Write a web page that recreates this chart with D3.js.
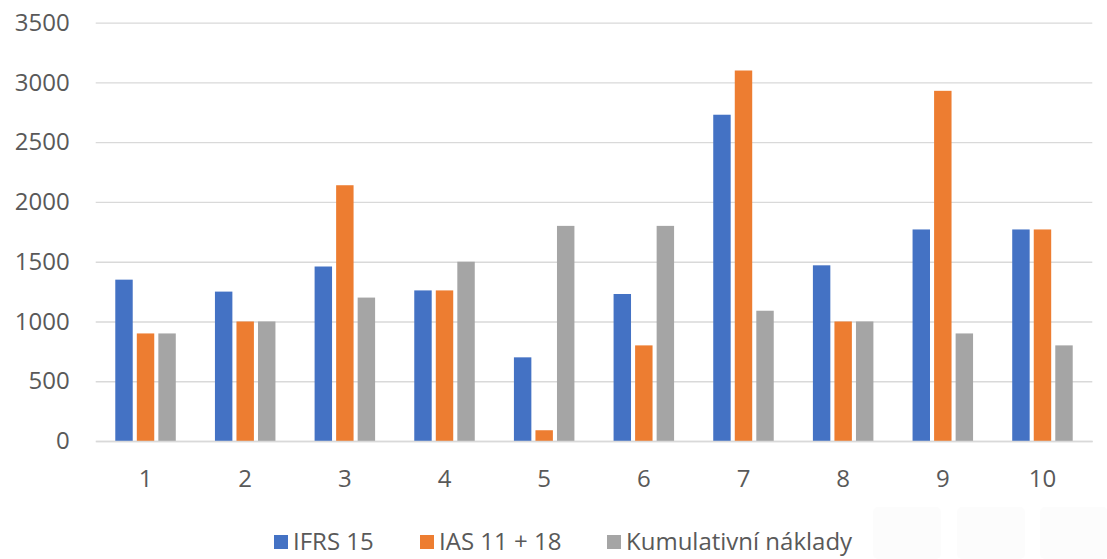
<!DOCTYPE html>
<html>
<head>
<meta charset="utf-8">
<script src="https://cdn.jsdelivr.net/npm/d3@7"></script>
<style>
  body { margin: 0; background: #fff; }
  text { font-family: "Open Sans", "Noto Sans", sans-serif; }
</style>
</head>
<body>
<div id="my_dataviz"></div>
<script>
// data
var categories = ["1", "2", "3", "4", "5", "6", "7", "8", "9", "10"];
var seriesNames = ["IFRS 15", "IAS 11 + 18", "Kumulativní náklady"];
var ifrs15 = [1350, 1250, 1460, 1260, 700, 1230, 2730, 1470, 1770, 1770];
var ias1118 = [900, 1000, 2140, 1260, 90, 800, 3100, 1000, 2930, 1770];
var kumulativni = [900, 1000, 1200, 1500, 1800, 1800, 1090, 1000, 900, 800];
var yTicks = [0, 500, 1000, 1500, 2000, 2500, 3000, 3500];

var colors = ["#4472C4", "#ED7D31", "#A5A5A5"];
var seriesValues = [ifrs15, ias1118, kumulativni];

var width = 1107, height = 559;

var svg = d3.select("#my_dataviz")
  .append("svg")
  .attr("width", width)
  .attr("height", height);

// scales
var x = d3.scaleBand()
  .domain(categories)
  .range([95.7, 1092.3])
  .padding(0);

var xSub = d3.scaleBand()
  .domain(seriesNames)
  .range([-30.25, 30.25])
  .paddingInner(0.19);

var y = d3.scaleLinear()
  .domain([0, 3500])
  .range([441, 22.7]);

// gridlines + y labels
var yAxis = svg.append("g")
  .attr("transform", "translate(95.7,0)")
  .call(d3.axisLeft(y).tickValues(yTicks).tickFormat(d3.format("d"))
    .tickSize(-(1092.3 - 95.7)).tickPadding(26));
yAxis.select(".domain").remove();
yAxis.selectAll(".tick line").attr("stroke", "#d9d9d9").attr("stroke-width", 1.3);
yAxis.selectAll(".tick text")
  .style("font-size", "24px")
  .attr("fill", "#595959");

// bars
var rows = [];
categories.forEach(function (c, i) {
  seriesNames.forEach(function (s, j) {
    rows.push({cat: c, series: s, value: seriesValues[j][i], color: colors[j]});
  });
});

svg.append("g")
  .selectAll("rect")
  .data(rows)
  .enter()
  .append("rect")
  .attr("x", function (d) { return x(d.cat) + x.bandwidth() / 2 + xSub(d.series); })
  .attr("y", function (d) { return y(d.value); })
  .attr("width", xSub.bandwidth())
  .attr("height", function (d) { return y(0) - y(d.value); })
  .style("fill", function (d) { return d.color; });

// x axis
var xAxis = svg.append("g")
  .attr("transform", "translate(0," + y(0) + ")")
  .call(d3.axisBottom(x).tickSize(0).tickPadding(29));
xAxis.select(".domain").attr("stroke", "#d9d9d9").attr("stroke-width", 1.3);
xAxis.selectAll(".tick text")
  .style("font-size", "24px")
  .attr("fill", "#595959");

// legend
var legendX = [274, 420, 607];
var legend = svg.append("g")
  .selectAll("g")
  .data(seriesNames)
  .enter()
  .append("g")
  .attr("transform", function (d, i) { return "translate(" + legendX[i] + ",535)"; });
legend.append("rect")
  .attr("width", 14)
  .attr("height", 14)
  .style("fill", function (d, i) { return colors[i]; });
legend.append("text")
  .attr("x", 19)
  .attr("y", 7)
  .attr("dy", "0.35em")
  .style("font-size", "24px")
  .attr("fill", "#595959")
  .text(function (d) { return d; });

// faint overlay buttons bottom right
var buttons = [873, 957, 1040];
svg.append("g")
  .selectAll("rect")
  .data(buttons)
  .enter()
  .append("rect")
  .attr("x", function (d) { return d; })
  .attr("y", 507)
  .attr("width", 68)
  .attr("height", 52)
  .attr("rx", 5)
  .style("fill", "#fcfcfc");
</script>
</body>
</html>
